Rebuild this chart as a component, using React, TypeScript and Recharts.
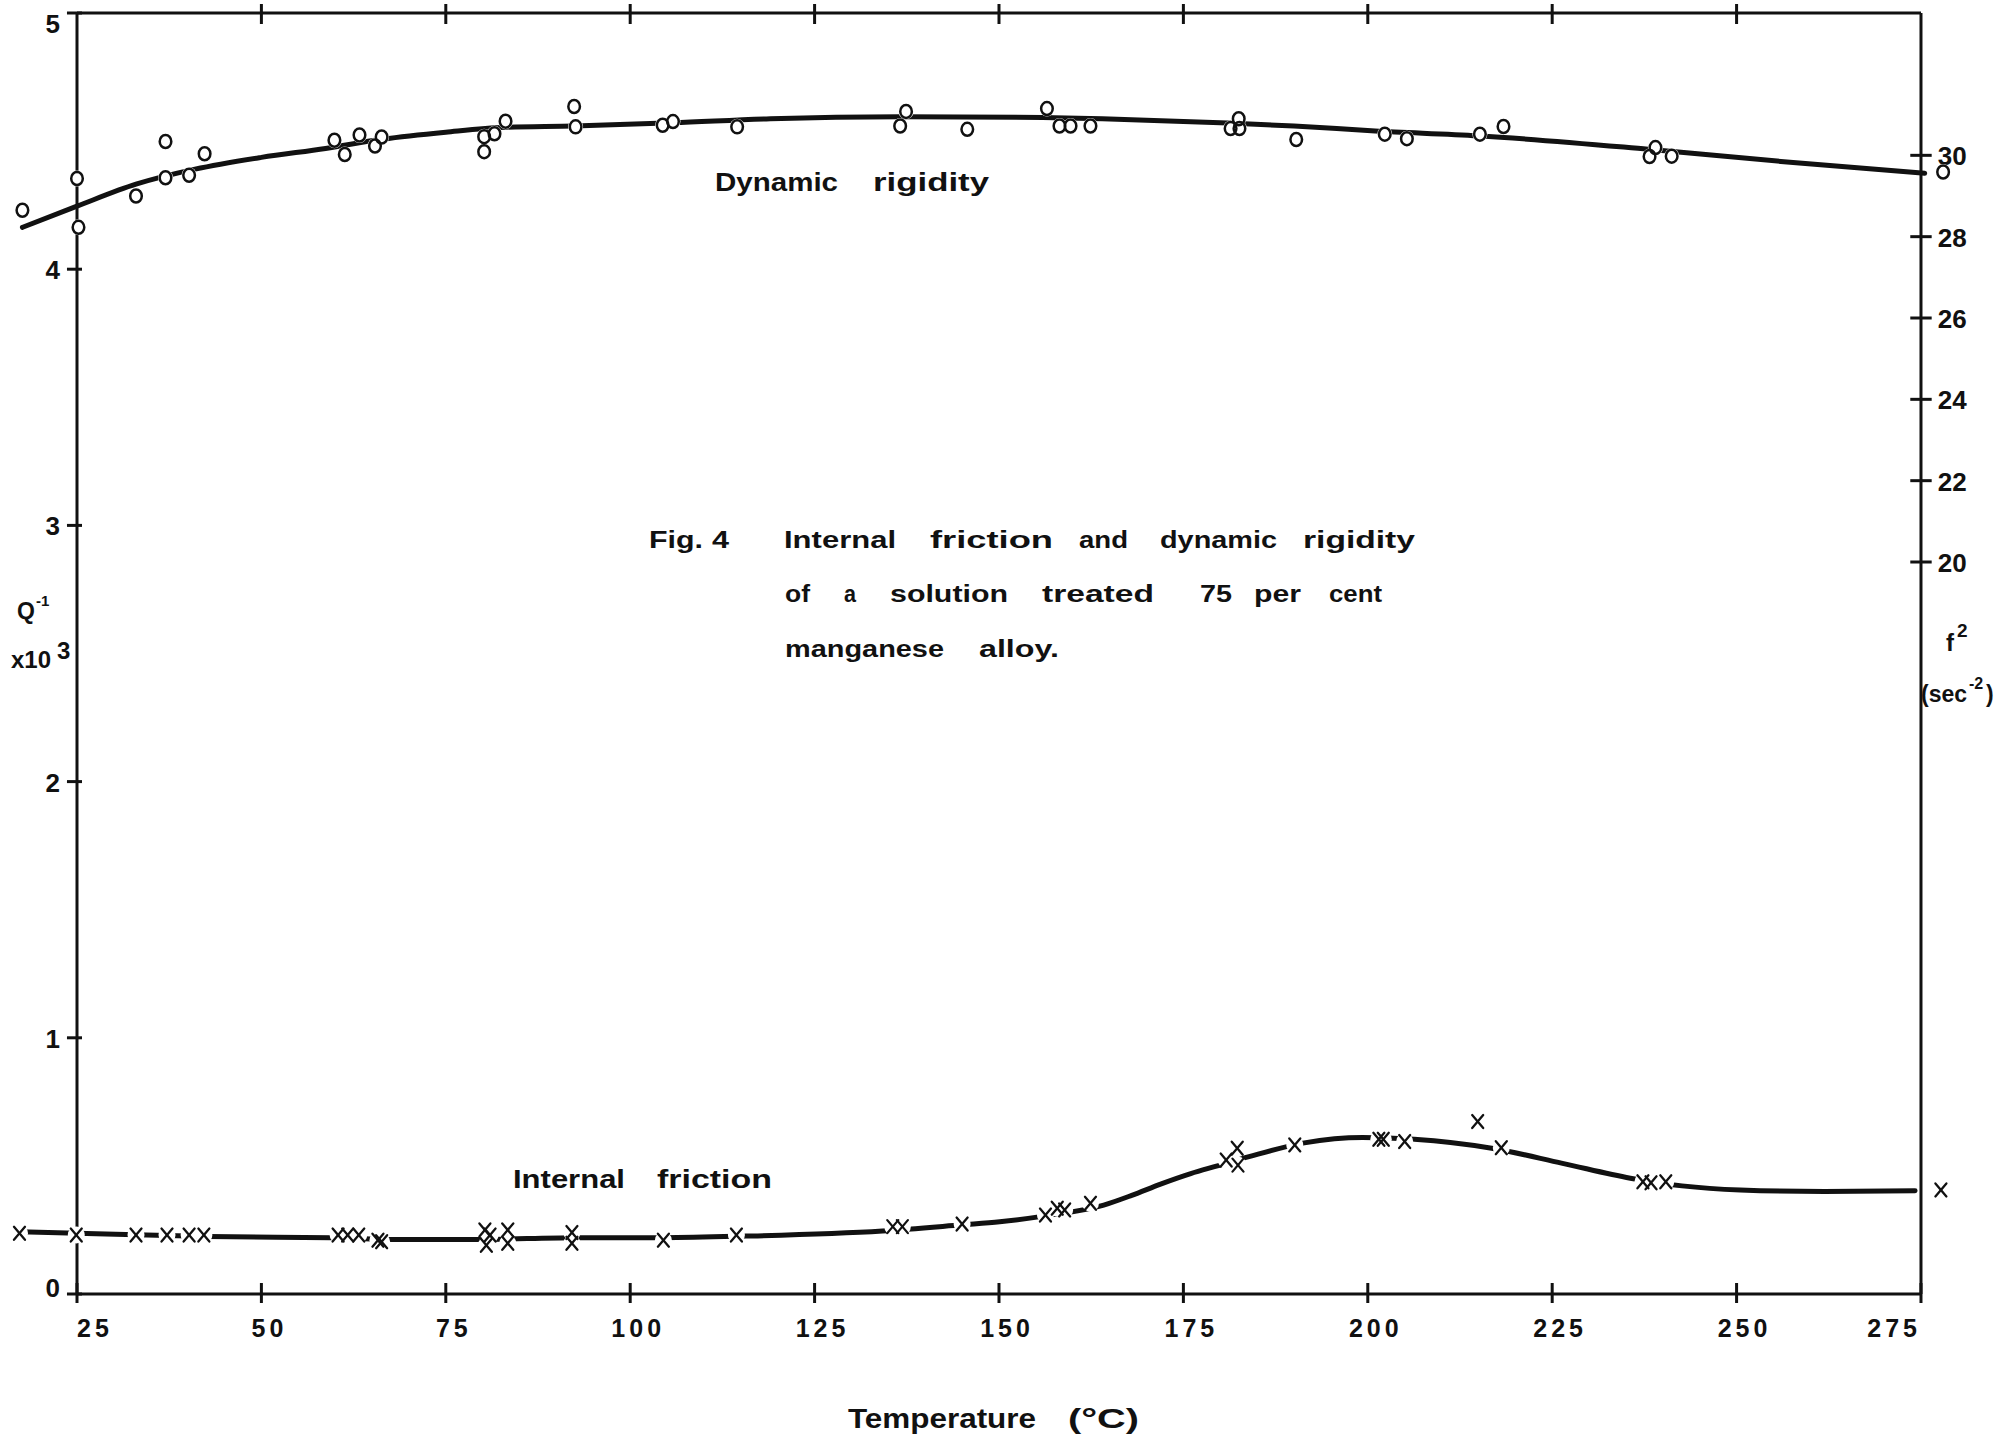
import React from 'react';
import { ComposedChart, Line, Scatter, XAxis, YAxis, ReferenceLine } from 'recharts';

// ---------------- data ----------------
const temperatureTicks = [25, 50, 75, 100, 125, 150, 175, 200, 225, 250, 275];
const topTicks = [50, 75, 100, 125, 150, 175, 200, 225, 250];
const qTicks = [0, 1, 2, 3, 4, 5];
const f2Ticks = [20, 22, 24, 26, 28, 30];

// Dynamic rigidity, f^2 (sec^-2), measured points (open circles)
const rigidityPoints = [
  { t: 17.6, v: 28.65 }, { t: 25.0, v: 29.43 }, { t: 25.2, v: 28.23 }, { t: 33.0, v: 29.0 },
  { t: 37.0, v: 30.34 }, { t: 37.0, v: 29.45 }, { t: 40.2, v: 29.51 }, { t: 42.3, v: 30.04 },
  { t: 59.9, v: 30.37 }, { t: 61.3, v: 30.02 }, { t: 63.3, v: 30.5 }, { t: 65.4, v: 30.23 },
  { t: 66.3, v: 30.45 }, { t: 80.2, v: 30.46 }, { t: 80.2, v: 30.09 }, { t: 81.6, v: 30.53 },
  { t: 83.1, v: 30.84 }, { t: 92.4, v: 31.2 }, { t: 92.6, v: 30.7 }, { t: 104.4, v: 30.74 },
  { t: 105.8, v: 30.83 }, { t: 114.5, v: 30.7 }, { t: 136.6, v: 30.72 }, { t: 137.4, v: 31.08 },
  { t: 145.7, v: 30.64 }, { t: 156.5, v: 31.15 }, { t: 158.2, v: 30.72 }, { t: 159.7, v: 30.72 },
  { t: 162.4, v: 30.72 }, { t: 181.4, v: 30.66 }, { t: 182.5, v: 30.9 }, { t: 182.6, v: 30.66 },
  { t: 190.3, v: 30.39 }, { t: 202.3, v: 30.52 }, { t: 205.3, v: 30.41 }, { t: 215.2, v: 30.52 },
  { t: 218.4, v: 30.71 }, { t: 238.2, v: 29.97 }, { t: 239.0, v: 30.19 }, { t: 241.2, v: 29.98 },
  { t: 278.0, v: 29.59 },
];

// Dynamic rigidity, hand-faired curve
const rigidityCurve = [
  { t: 17.6, v: 28.23 }, { t: 25, v: 28.75 }, { t: 33, v: 29.29 }, { t: 41, v: 29.66 },
  { t: 50, v: 29.95 }, { t: 58.7, v: 30.17 }, { t: 66.5, v: 30.4 }, { t: 75, v: 30.57 },
  { t: 83, v: 30.69 }, { t: 92.4, v: 30.72 }, { t: 105.8, v: 30.8 }, { t: 119, v: 30.9 },
  { t: 136.6, v: 30.95 }, { t: 155.9, v: 30.93 }, { t: 164, v: 30.9 }, { t: 180, v: 30.8 },
  { t: 190, v: 30.72 }, { t: 201, v: 30.6 }, { t: 215, v: 30.48 }, { t: 238, v: 30.15 },
  { t: 256, v: 29.85 }, { t: 275.5, v: 29.56 },
];

// Internal friction, Q^-1 x 10^3, measured points (crosses)
const frictionPoints = [
  { t: 17.2, v: 0.237 }, { t: 24.9, v: 0.23 }, { t: 33.0, v: 0.23 }, { t: 37.2, v: 0.23 },
  { t: 40.2, v: 0.23 }, { t: 42.2, v: 0.23 }, { t: 60.4, v: 0.23 }, { t: 61.7, v: 0.23 },
  { t: 63.2, v: 0.23 }, { t: 65.8, v: 0.21 }, { t: 66.3, v: 0.204 }, { t: 80.3, v: 0.25 },
  { t: 80.5, v: 0.19 }, { t: 81.0, v: 0.23 }, { t: 83.4, v: 0.25 }, { t: 83.4, v: 0.198 },
  { t: 92.1, v: 0.24 }, { t: 92.1, v: 0.198 }, { t: 104.5, v: 0.21 }, { t: 114.4, v: 0.23 },
  { t: 135.6, v: 0.263 }, { t: 136.9, v: 0.263 }, { t: 145.0, v: 0.273 }, { t: 156.3, v: 0.308 },
  { t: 157.9, v: 0.335 }, { t: 158.9, v: 0.328 }, { t: 162.4, v: 0.354 }, { t: 180.8, v: 0.523 },
  { t: 182.3, v: 0.569 }, { t: 182.4, v: 0.503 }, { t: 190.1, v: 0.582 }, { t: 201.5, v: 0.604 },
  { t: 202.1, v: 0.604 }, { t: 205.0, v: 0.595 }, { t: 214.9, v: 0.673 }, { t: 218.1, v: 0.571 },
  { t: 237.3, v: 0.438 }, { t: 238.4, v: 0.434 }, { t: 240.4, v: 0.438 }, { t: 277.7, v: 0.406 },
];

// Internal friction, hand-faired curve
const frictionCurve = [
  { t: 17.2, v: 0.243 }, { t: 25, v: 0.237 }, { t: 42.8, v: 0.224 }, { t: 59.5, v: 0.22 },
  { t: 68.2, v: 0.213 }, { t: 79.7, v: 0.213 }, { t: 92.4, v: 0.22 }, { t: 104.5, v: 0.22 },
  { t: 115.7, v: 0.226 }, { t: 134.2, v: 0.246 }, { t: 145, v: 0.27 }, { t: 150.1, v: 0.282 },
  { t: 156.3, v: 0.305 }, { t: 164.2, v: 0.347 }, { t: 168, v: 0.385 }, { t: 172, v: 0.43 },
  { t: 176, v: 0.47 }, { t: 179.6, v: 0.5 }, { t: 183.9, v: 0.536 }, { t: 191.4, v: 0.59 },
  { t: 199.3, v: 0.611 }, { t: 206.3, v: 0.604 }, { t: 216.8, v: 0.569 }, { t: 226.4, v: 0.51 },
  { t: 235.6, v: 0.452 }, { t: 242.6, v: 0.422 }, { t: 250.5, v: 0.406 }, { t: 261.9, v: 0.4 },
  { t: 274.2, v: 0.403 },
];

// ---------------- layout / style ----------------
const W = 2015;
const H = 1437;
const X_DOMAIN: [number, number] = [15, 281];
const Q_DOMAIN: [number, number] = [0, 5];
const F2_DOMAIN: [number, number] = [2, 33.5];
const X_START = 25;
const X_END = 275;
const FONT = "'Liberation Sans Narrow', 'Liberation Sans', Arial, sans-serif";
const WEIGHT = 700;
const INK = '#111';

// text annotations (words placed individually to follow the hand lettering)
const annotations = [
  { s: 'Dynamic', x: 715, y: 191, w: 123, fs: 25 },
  { s: 'rigidity', x: 873, y: 191, w: 116, fs: 25 },
  { s: 'Internal', x: 513, y: 1188, w: 112, fs: 26 },
  { s: 'friction', x: 657, y: 1188, w: 115, fs: 26 },
  { s: 'Fig.', x: 649, y: 548, w: 54, fs: 23 },
  { s: '4', x: 712, y: 548, w: 17, fs: 23 },
  { s: 'Internal', x: 784, y: 548, w: 112, fs: 23 },
  { s: 'friction', x: 930, y: 548, w: 123, fs: 23 },
  { s: 'and', x: 1079, y: 548, w: 49, fs: 23 },
  { s: 'dynamic', x: 1160, y: 548, w: 117, fs: 23 },
  { s: 'rigidity', x: 1303, y: 548, w: 112, fs: 23 },
  { s: 'of', x: 785, y: 602, w: 25, fs: 23 },
  { s: 'a', x: 844, y: 602, w: 12, fs: 23 },
  { s: 'solution', x: 890, y: 602, w: 118, fs: 23 },
  { s: 'treated', x: 1042, y: 602, w: 112, fs: 23 },
  { s: '75', x: 1200, y: 602, w: 32, fs: 23 },
  { s: 'per', x: 1254, y: 602, w: 47, fs: 23 },
  { s: 'cent', x: 1329, y: 602, w: 53, fs: 23 },
  { s: 'manganese', x: 785, y: 657, w: 159, fs: 23 },
  { s: 'alloy.', x: 979, y: 657, w: 80, fs: 23 },
  { s: 'Temperature', x: 848, y: 1428, w: 188, fs: 27 },
  { s: '(°C)', x: 1068, y: 1428, w: 71, fs: 27 },
];

// axis titles with superscripts: each is one text made of positioned pieces
const axisTitles = [
  [
    { s: 'Q', x: 17, y: 619, fs: 23 },
    { s: '-1', x: 36, y: 606, fs: 15 },
  ],
  [
    { s: 'x10', x: 11, y: 668, fs: 24 },
    { s: '3', x: 57, y: 659, fs: 24 },
  ],
  [
    { s: 'f', x: 1946, y: 651, fs: 24 },
    { s: '2', x: 1957, y: 637, fs: 19 },
  ],
  [
    { s: '(sec', x: 1921, y: 702, fs: 23 },
    { s: '-2', x: 1969, y: 689, fs: 16 },
    { s: ')', x: 1986, y: 702, fs: 23 },
  ],
];

// ---------------- custom pieces ----------------
const BottomTick = (props: any) => {
  const { x, y, payload } = props;
  const v = payload.value;
  const anchor = v === X_START ? 'start' : v === X_END ? 'end' : 'middle';
  const dx = anchor === 'middle' ? 8 : 0;
  return (
    <g>
      <line x1={x} x2={x} y1={y - 11} y2={y + 9} stroke={INK} strokeWidth={3} />
      <text x={x + dx} y={y + 43} textAnchor={anchor} fontSize={25} fontWeight={WEIGHT}
        fontFamily={FONT} fill={INK} style={{ letterSpacing: '4px' }}>{v}</text>
    </g>
  );
};

const TopTick = (props: any) => {
  const { x, y } = props;
  return <line x1={x} x2={x} y1={y - 9} y2={y + 11} stroke={INK} strokeWidth={3} />;
};

const leftLabel = (txt: string, dy: number) => (props: any) => {
  const vb = props.viewBox || {};
  const y = (vb.y || 0) + (vb.height || 0) / 2;
  return (
    <text x={(vb.x || 0) - 7} y={y + dy} textAnchor="end" fontSize={26} fontWeight={WEIGHT}
      fontFamily={FONT} fill={INK}>{txt}</text>
  );
};

const rightLabel = (txt: string) => (props: any) => {
  const vb = props.viewBox || {};
  const y = (vb.y || 0) + (vb.height || 0) / 2;
  return (
    <text x={(vb.x || 0) + (vb.width || 0) + 6} y={y + 10} textAnchor="start" fontSize={26}
      fontWeight={WEIGHT} fontFamily={FONT} fill={INK}>{txt}</text>
  );
};

const CircleHalo = (p: any) => <ellipse cx={p.cx} cy={p.cy} rx={7.5} ry={8} fill="#fff" />;
const CircleMark = (p: any) => (
  <ellipse cx={p.cx} cy={p.cy} rx={5.8} ry={6.5} fill="none" stroke={INK} strokeWidth={2.5} />
);
const CrossHalo = (p: any) => <circle cx={p.cx} cy={p.cy} r={8.5} fill="#fff" />;
const CrossMark = (p: any) => (
  <g stroke={INK} strokeWidth={2.3} strokeLinecap="round">
    <line x1={p.cx - 5.5} y1={p.cy - 6.5} x2={p.cx + 5.5} y2={p.cy + 6.5} />
    <line x1={p.cx + 5.5} y1={p.cy - 6.5} x2={p.cx - 5.5} y2={p.cy + 6.5} />
  </g>
);

export default function App() {
  return (
    <div style={{ position: 'absolute', left: 0, top: 0, width: W, height: H, background: '#fff' }}>
      <ComposedChart width={W} height={H} margin={{ top: 3, right: 49.76, bottom: 83, left: 3.24 }}>
        <XAxis xAxisId="b" type="number" dataKey="t" domain={X_DOMAIN} ticks={temperatureTicks}
          interval={0} height={60} axisLine={false} tickLine={false} tickSize={0} tickMargin={0}
          tick={<BottomTick />} />
        <XAxis xAxisId="top" orientation="top" type="number" dataKey="t" domain={X_DOMAIN}
          allowDataOverflow ticks={topTicks} interval={0} height={10} axisLine={false} tickLine={false}
          tickSize={0} tickMargin={0} tick={<TopTick />} />
        <YAxis yAxisId="q" hide type="number" dataKey="v" domain={Q_DOMAIN} />
        <YAxis yAxisId="f2" hide type="number" dataKey="v" domain={F2_DOMAIN} />

        <Line xAxisId="b" yAxisId="f2" data={rigidityCurve} dataKey="v" type="monotone" stroke={INK}
          strokeWidth={5} strokeLinecap="round" dot={false} activeDot={false} isAnimationActive={false} />
        <Line xAxisId="b" yAxisId="q" data={frictionCurve} dataKey="v" type="monotone" stroke={INK}
          strokeWidth={5} strokeLinecap="round" dot={false} activeDot={false} isAnimationActive={false} />

        <Scatter xAxisId="b" yAxisId="f2" data={rigidityPoints} dataKey="v" shape={CircleHalo} isAnimationActive={false} />
        <Scatter xAxisId="b" yAxisId="q" data={frictionPoints} dataKey="v" shape={CrossHalo} isAnimationActive={false} />
        <Scatter xAxisId="b" yAxisId="f2" data={rigidityPoints} dataKey="v" shape={CircleMark} isAnimationActive={false} />
        <Scatter xAxisId="b" yAxisId="q" data={frictionPoints} dataKey="v" shape={CrossMark} isAnimationActive={false} />

        {/* frame */}
        <ReferenceLine xAxisId="b" yAxisId="q" ifOverflow="visible" stroke={INK} strokeWidth={3}
          segment={[{ x: X_START, y: Q_DOMAIN[0] }, { x: X_END, y: Q_DOMAIN[0] }]} />
        <ReferenceLine xAxisId="b" yAxisId="q" ifOverflow="visible" stroke={INK} strokeWidth={3}
          segment={[{ x: X_START, y: Q_DOMAIN[1] }, { x: X_END, y: Q_DOMAIN[1] }]} />
        <ReferenceLine xAxisId="b" yAxisId="q" ifOverflow="visible" stroke={INK} strokeWidth={3}
          segment={[{ x: X_START, y: Q_DOMAIN[0] }, { x: X_START, y: Q_DOMAIN[1] }]} />
        <ReferenceLine xAxisId="b" yAxisId="q" ifOverflow="visible" stroke={INK} strokeWidth={3}
          segment={[{ x: X_END, y: Q_DOMAIN[0] }, { x: X_END, y: Q_DOMAIN[1] }]} />

        {/* left axis ticks (Q^-1 x 10^3) */}
        {qTicks.map((v) => (
          <ReferenceLine key={'q' + v} xAxisId="b" yAxisId="q" ifOverflow="visible" stroke={INK} strokeWidth={3}
            segment={[{ x: X_START - 1.36, y: v }, { x: X_START + 0.68, y: v }]}
            label={leftLabel(String(v), v === 5 ? 20 : v === 0 ? 3 : 10)} />
        ))}
        {/* right axis ticks (f^2) */}
        {f2Ticks.map((v) => (
          <ReferenceLine key={'f' + v} xAxisId="b" yAxisId="f2" ifOverflow="visible" stroke={INK} strokeWidth={3}
            segment={[{ x: X_END - 1.45, y: v }, { x: X_END + 1.45, y: v }]}
            label={rightLabel(String(v))} />
        ))}
      </ComposedChart>

      <svg width={W} height={H} style={{ position: 'absolute', left: 0, top: 0, pointerEvents: 'none' }}>
        {annotations.map((a, i) => (
          <text key={i} x={a.x} y={a.y} fontSize={a.fs} fontWeight={WEIGHT} fontFamily={FONT} fill={INK}
            textLength={a.w} lengthAdjust="spacingAndGlyphs">{a.s}</text>
        ))}
        {axisTitles.map((parts, i) => (
          <text key={'t' + i} fontWeight={WEIGHT} fontFamily={FONT} fill={INK}>
            {parts.map((p, j) => (
              <tspan key={j} x={p.x} y={p.y} fontSize={p.fs}>{p.s}</tspan>
            ))}
          </text>
        ))}
      </svg>
    </div>
  );
}
